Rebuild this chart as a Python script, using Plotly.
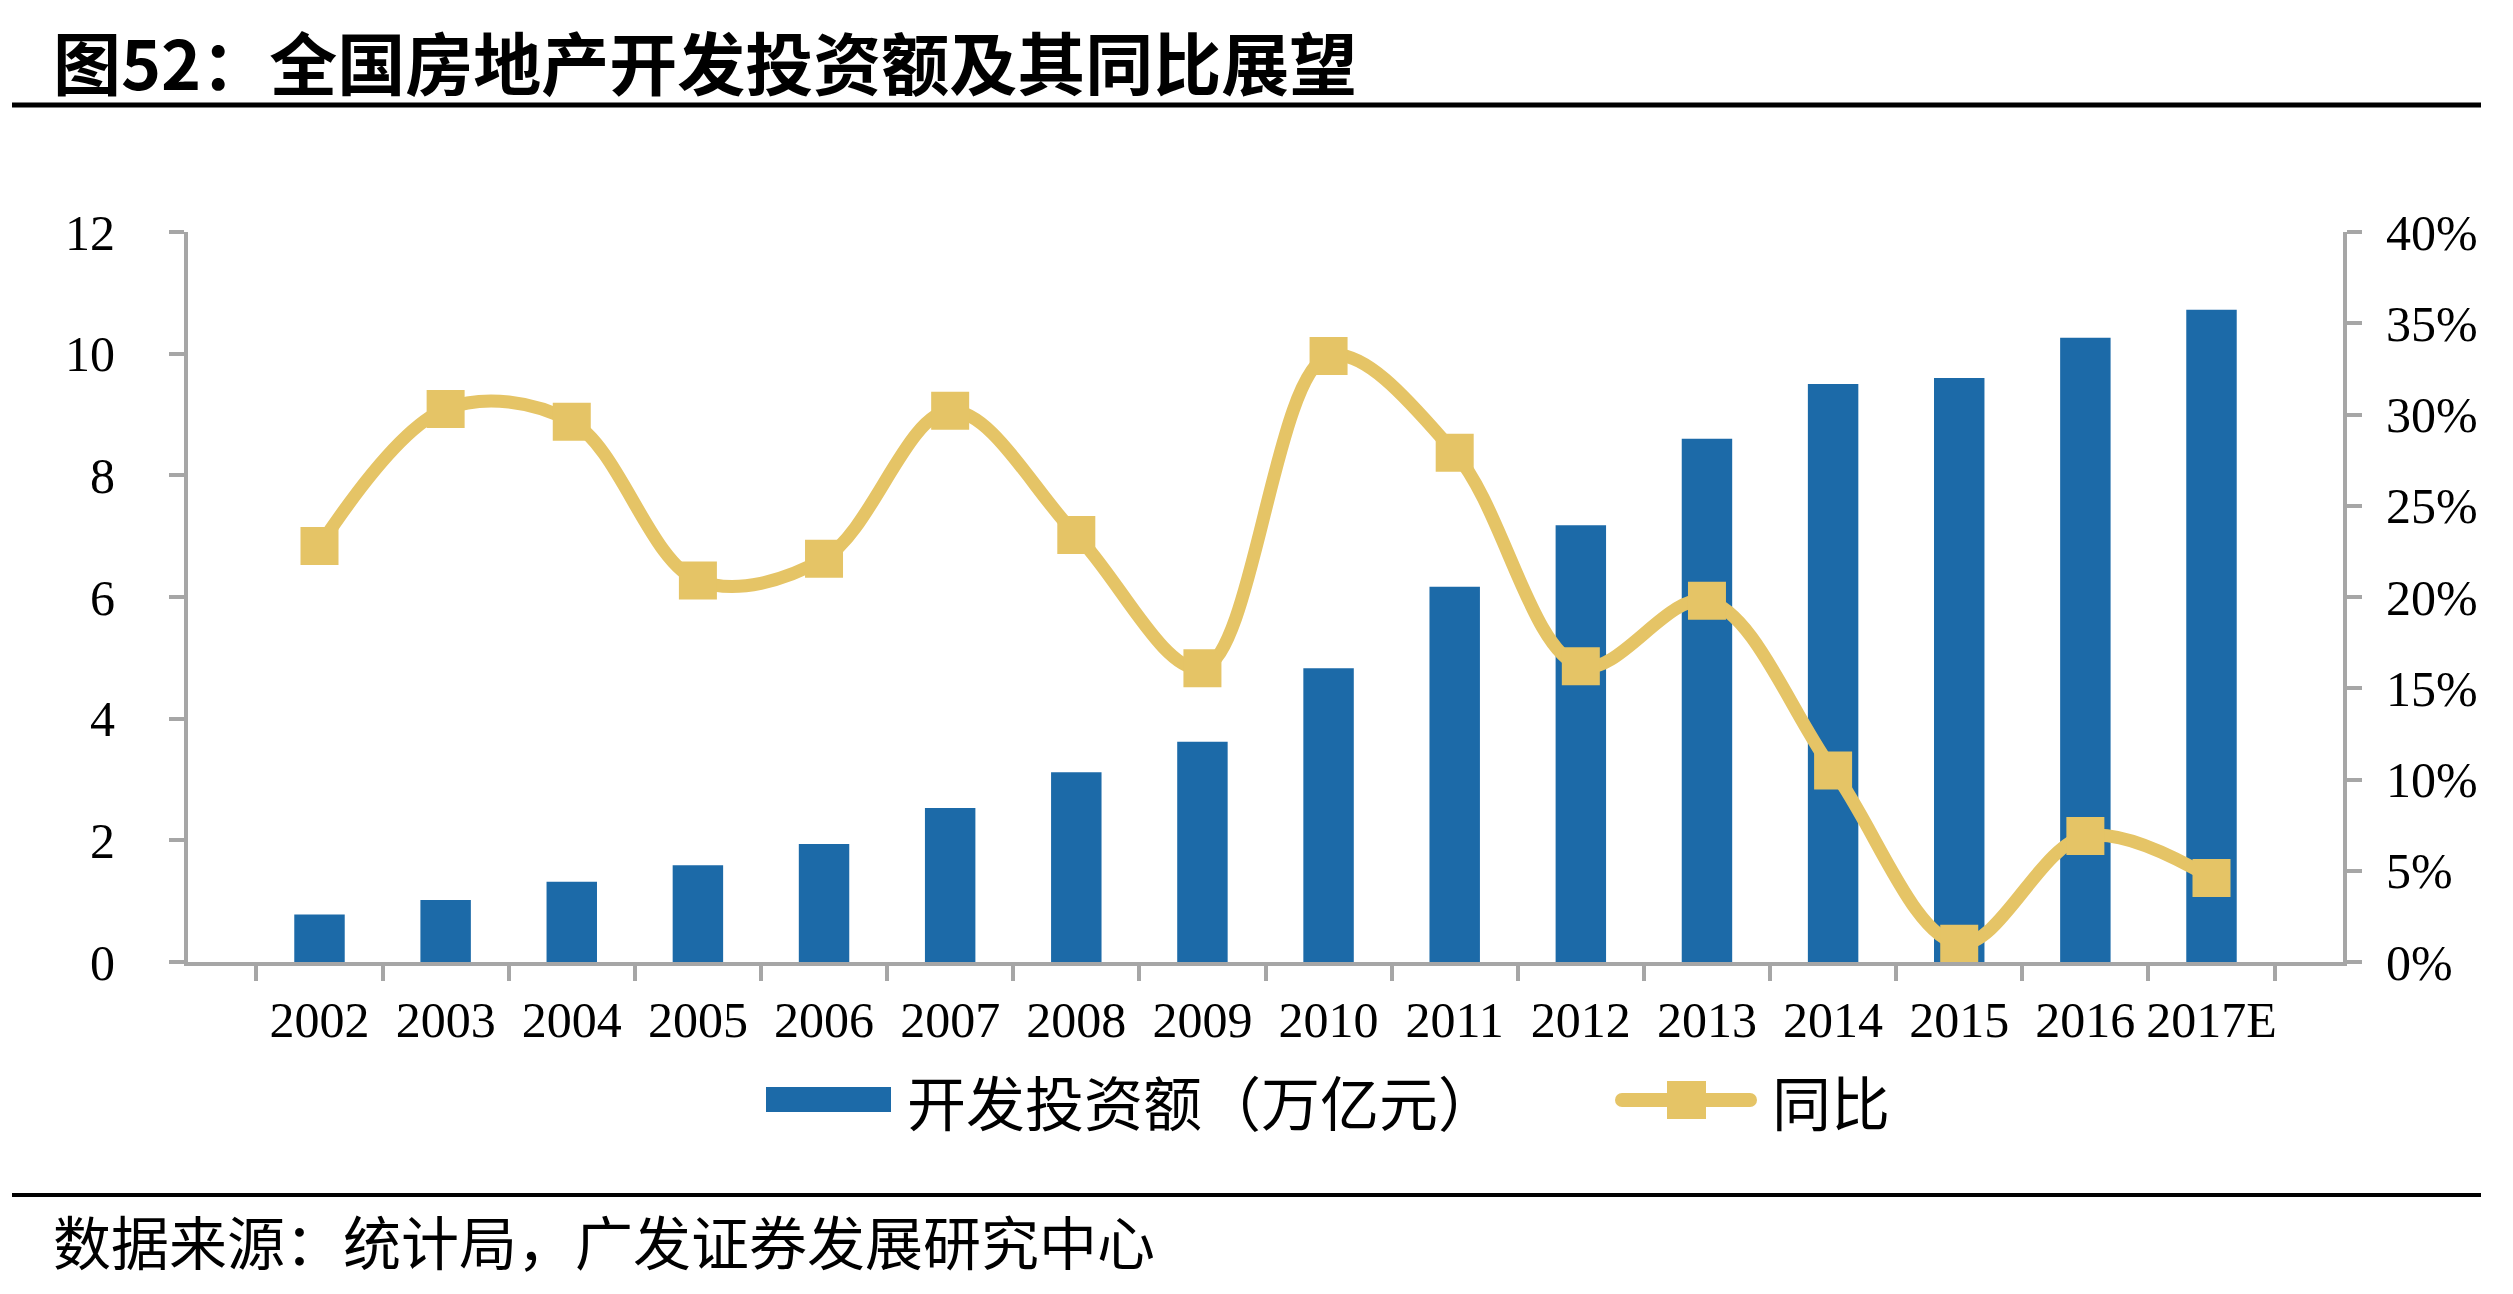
import plotly.graph_objects as go

years = ["2002", "2003", "2004", "2005", "2006", "2007", "2008", "2009",
         "2010", "2011", "2012", "2013", "2014", "2015", "2016", "2017E"]
invest = [0.78, 1.02, 1.32, 1.59, 1.94, 2.53, 3.12, 3.62,
          4.83, 6.17, 7.18, 8.60, 9.50, 9.60, 10.26, 10.72]
yoy = [0.228, 0.303, 0.296, 0.209, 0.221, 0.302, 0.234, 0.161,
       0.332, 0.279, 0.162, 0.198, 0.105, 0.010, 0.069, 0.046]
bar_name = "开发投资额（万亿元）"
line_name = "同比"
title_text = "图52：全国房地产开发投资额及其同比展望"
source_text = "数据来源：统计局，广发证券发展研究中心"

# the page body adds an 8px margin; all reference pixel positions are shifted by it
OFF = 8
W, H = 2513 - 2 * OFF, 1294 - 2 * OFF
L, R, T, B = 188 - OFF, 2343 - OFF, 232 - OFF, 962 - OFF
PW, PH = R - L, B - T

BLUE = "#1C6AA8"
GOLD = "#E5C466"
GREY = "#A6A6A6"
CJK = "Noto Sans CJK SC"
SERIF = "Liberation Serif"


def px(x):
    return (x - OFF - L) / PW


def py(y):
    return (B - (y - OFF)) / PH


fig = go.Figure()
fig.add_trace(go.Bar(x=years, y=invest, name=bar_name, marker_color=BLUE,
                     marker_line_width=0, yaxis="y"))
fig.add_trace(go.Scatter(x=years, y=yoy, name=line_name, yaxis="y2",
                         mode="lines+markers",
                         line=dict(color=GOLD, width=13, shape="spline", smoothing=1.0),
                         marker=dict(symbol="square", size=38, color=GOLD,
                                     line=dict(width=0))))

axis_common = dict(showgrid=False, zeroline=False, showline=True, linecolor=GREY,
                   linewidth=4, ticks="outside", tickcolor=GREY, tickwidth=4,
                   ticklen=15, tickfont=dict(family=SERIF, size=50, color="#000"))

fig.update_layout(
    width=W, height=H,
    margin=dict(l=L, r=W - R, t=T, b=H - B, autoexpand=False),
    paper_bgcolor="white", plot_bgcolor="white",
    showlegend=False,
    bargap=0.6,
    xaxis=dict(type="category", tickson="boundaries", ticklabelstandoff=11,
               tickangle=0, **axis_common),
    yaxis=dict(range=[0, 12], dtick=2, ticklabelstandoff=44, **axis_common),
    yaxis2=dict(range=[0, 0.4], dtick=0.05, tickformat=".0%", overlaying="y",
                side="right", ticklabelstandoff=14, **axis_common),
)

shapes = [
    # top and bottom rules
    dict(type="line", xref="paper", yref="paper", x0=px(12), x1=px(2481),
         y0=py(105), y1=py(105), line=dict(color="#000", width=5)),
    dict(type="line", xref="paper", yref="paper", x0=px(12), x1=px(2481),
         y0=py(1195), y1=py(1195), line=dict(color="#000", width=4)),
    # legend: bar swatch
    dict(type="rect", xref="paper", yref="paper", x0=px(766), x1=px(891),
         y0=py(1112), y1=py(1087), fillcolor=BLUE, line=dict(width=0)),
    # legend: line swatch
    dict(type="line", xref="paper", yref="paper", x0=px(1622), x1=px(1750),
         y0=py(1100), y1=py(1100), line=dict(color=GOLD, width=14)),
    dict(type="rect", xref="paper", yref="paper", x0=px(1667), x1=px(1706),
         y0=py(1119), y1=py(1081), fillcolor=GOLD, line=dict(width=0)),
]
for cx in (1622, 1750):
    shapes.append(dict(type="circle", xref="paper", yref="paper",
                       xsizemode="pixel", ysizemode="pixel",
                       xanchor=px(cx), yanchor=py(1100),
                       x0=-7, x1=7, y0=-7, y1=7,
                       fillcolor=GOLD, line=dict(width=0)))
fig.update_layout(shapes=shapes)

annotations = [
    dict(text="<b>" + title_text + "</b>", x=px(51), y=py(OFF + 1), xanchor="left",
         yanchor="top", font=dict(family=CJK, size=68, color="#000")),
    dict(text=bar_name, x=px(905), y=py(1100), xanchor="left", yanchor="middle",
         font=dict(family=CJK, size=59, color="#000")),
    dict(text=line_name, x=px(1770), y=py(1100), xanchor="left", yanchor="middle",
         font=dict(family=CJK, size=59, color="#000")),
    dict(text=source_text, x=px(51), y=py(1294 - OFF - 2), xanchor="left",
         yanchor="bottom", font=dict(family=CJK, size=58, color="#000")),
]
for a in annotations:
    a.update(xref="paper", yref="paper", showarrow=False)
fig.update_layout(annotations=annotations)

fig.write_html("out.html")
